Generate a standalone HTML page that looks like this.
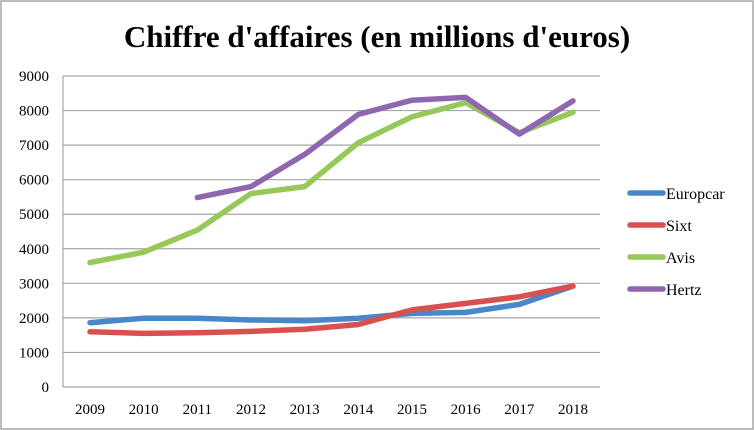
<!DOCTYPE html>
<html><head><meta charset="utf-8">
<style>
html,body{margin:0;padding:0;background:#fff;}
svg{display:block;font-family:"Liberation Serif",serif;}
</style></head>
<body>
<svg id="chart" width="754" height="430" viewBox="0 0 754 430">
<rect x="1" y="1" width="752" height="428" fill="#fff" stroke="#a6a6a6" stroke-width="1.5"/>
<text x="377" y="47" text-anchor="middle" font-size="31" font-weight="bold" fill="#000">Chiffre d'affaires (en millions d'euros)</text>
<g id="grid"></g><g id="series"></g><g id="legend"></g>
</svg>
<script>
const years = ["2009","2010","2011","2012","2013","2014","2015","2016","2017","2018"];
const yTicks = [0,1000,2000,3000,4000,5000,6000,7000,8000,9000];
const seriesNames = ["Europcar","Sixt","Avis","Hertz"];
const seriesColors = ["#4a87c8","#d9514e","#96c85a","#8f67b0"];
const europcar = [1860,1990,1990,1940,1920,1990,2130,2160,2390,2920];
const sixt = [1600,1550,1570,1610,1670,1810,2230,2420,2610,2920];
const avis = [3600,3900,4540,5600,5800,7070,7820,8230,7360,7950];
const hertz = [null,null,5480,5800,6730,7890,8300,8380,7320,8280];
const allSeries = [europcar,sixt,avis,hertz];

const NS="http://www.w3.org/2000/svg";
const L=63,R=600,T=76,B=387,x0=90,xStep=(573-90)/9,yMax=9000;
const xs=i=>x0+i*xStep;
const ys=v=>B-(v/yMax)*(B-T);
function mk(tag,attrs,parent){const e=document.createElementNS(NS,tag);for(const k in attrs)e.setAttribute(k,attrs[k]);parent.appendChild(e);return e;}
const grid=document.getElementById('grid');
yTicks.forEach(v=>{
  const ln=mk('line',{x1:L,x2:R,y1:ys(v),y2:ys(v),stroke:'#a6a6a6','stroke-width':1.2},grid);
  
  
  const t=mk('text',{x:49,y:ys(v)+5,'text-anchor':'end','font-size':15,fill:'#000'},grid);
  t.textContent=v;
  
  
});
const ax=mk('line',{x1:L,x2:L,y1:T,y2:B,stroke:'#a6a6a6','stroke-width':1.2},grid);


years.forEach((y,i)=>{
  const t=mk('text',{x:xs(i),y:414,'text-anchor':'middle','font-size':15,fill:'#000'},grid);
  t.textContent=y;
  
  
});
const sg=document.getElementById('series');
allSeries.forEach((s,si)=>{
  const pts=[];
  s.forEach((v,i)=>{if(v!==null)pts.push(xs(i).toFixed(1)+','+ys(v).toFixed(1));});
  const p=mk('polyline',{points:pts.join(' '),fill:'none',stroke:seriesColors[si],'stroke-width':5.5,'stroke-linejoin':'round','stroke-linecap':'round'},sg);
  
  
});
const lg=document.getElementById('legend');
seriesNames.forEach((n,i)=>{
  const y=193+i*32;
  const ln=mk('line',{x1:630,x2:663,y1:y,y2:y,stroke:seriesColors[i],'stroke-width':5.5,'stroke-linecap':'round'},lg);
  
  
  const t=mk('text',{x:666,y:y+6,'font-size':16,fill:'#000'},lg);
  t.textContent=n;
  
  
});
</script>
</body></html>
